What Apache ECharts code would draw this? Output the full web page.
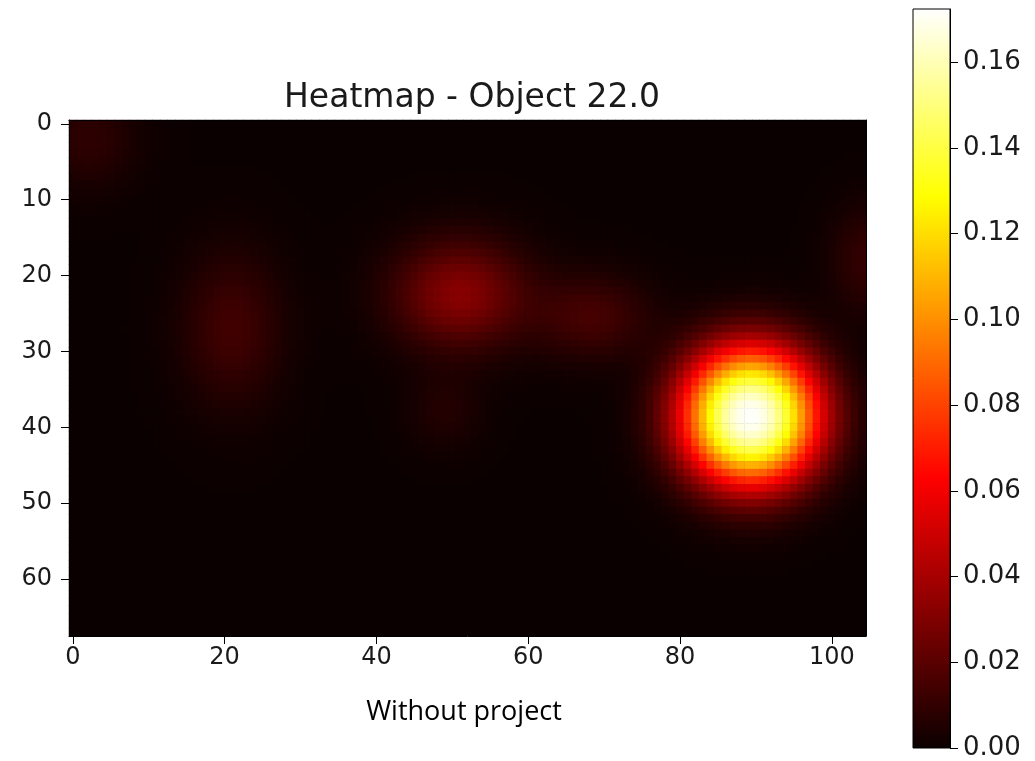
<!DOCTYPE html>
<html><head><meta charset="utf-8">
<script src="https://cdn.jsdelivr.net/npm/echarts@6/dist/echarts.min.js"></script>
<style>html,body{margin:0;padding:0;background:#fff}#c{width:1035px;height:761px}</style>
</head><body><div id="c"></div>
<script>
// ---- text ----
const titleText = 'Heatmap - Object 22.0';
const captionText = 'Without project';
// ---- grid size (cells) ----
const xCount = 105;
const yCount = 68;
// ---- tick labels ----
const xTickStep = 20;
const yTickStep = 10;
const colorbarTicks = [0, 0.02, 0.04, 0.06, 0.08, 0.10, 0.12, 0.14, 0.16];
const valueMax = 0.1724;
// ---- density blobs (cell units) ----
const blobX      = [89.3, 51.0, 68.5, 21.0, 2.0, 49.0, 105.0];
const blobY      = [38.6, 22.5, 25.5, 27.0, 2.0, 38.0, 18.0];
const blobPeak   = [0.172, 0.032, 0.015, 0.014, 0.009, 0.006, 0.011];
const blobSpreadX= [9.0, 8.5, 7.5, 6.5, 6.5, 5.0, 5.0];
const blobSpreadY= [9.0, 7.0, 5.5, 10.0, 6.5, 5.0, 7.0];
const blobShape  = [2.3, 2.0, 2.0, 2.0, 2.0, 2.0, 2.0];

// ---- build the heatmap table ----
const xCats = Array.from({length: xCount}, (_, i) => String(i));
const yCats = Array.from({length: yCount}, (_, i) => String(i));
const cells = [];
for (let yi = 0; yi < yCount; yi++) {
  for (let xi = 0; xi < xCount; xi++) {
    let v = 0;
    for (let b = 0; b < blobX.length; b++) {
      const dx = (xi - blobX[b]) / blobSpreadX[b];
      const dy = (yi - blobY[b]) / blobSpreadY[b];
      v += blobPeak[b] * Math.exp(-Math.pow(dx * dx + dy * dy, blobShape[b] / 2));
    }
    cells.push([xi, yi, Math.min(v, valueMax)]);
  }
}

// matplotlib 'hot' colormap
function hot(t) {
  const r = t < 0.365079 ? 0.0416 + (1 - 0.0416) * t / 0.365079 : 1;
  const g = t < 0.365079 ? 0 : (t < 0.746032 ? (t - 0.365079) / (0.746032 - 0.365079) : 1);
  const b = t < 0.746032 ? 0 : (t - 0.746032) / (1 - 0.746032);
  const h = x => Math.round(x * 255);
  return 'rgb(' + h(r) + ',' + h(g) + ',' + h(b) + ')';
}
const hotColors = Array.from({length: 129}, (_, i) => hot(i / 128));
const hotStops = [0, 0.365079, 0.746032, 1].map(o => ({offset: o, color: hot(o)}));

const font = 'DejaVu Sans';
const tickFont = 24;
const chart = echarts.init(document.getElementById('c'), null, {renderer: 'canvas'});
chart.setOption({
  animation: false,
  backgroundColor: '#fff',
  title: {
    text: titleText, left: 467, top: 77, textAlign: 'center',
    textStyle: {fontFamily: font, fontSize: 33, fontWeight: 'normal', color: '#1a1a1a'}
  },
  graphic: [{
    type: 'text', x: 464, y: 712, z: 100,
    style: {text: captionText, fontFamily: 'Open Sans', fontSize: 27, fill: '#000',
            align: 'center', verticalAlign: 'middle'}
  }],
  grid: [
    {left: 69, top: 120, width: 797, height: 516, show: true,
     backgroundColor: hot(0), borderWidth: 0},
    {left: 913, top: 9, width: 37, height: 739, show: true,
     backgroundColor: new echarts.graphic.LinearGradient(0, 1, 0, 0, hotStops),
     borderColor: '#000', borderWidth: 1}
  ],
  xAxis: [
    {type: 'category', gridIndex: 0, data: xCats, position: 'bottom', z: 10,
     axisLine: {show: true, lineStyle: {color: '#000', width: 1}},
     axisTick: {show: true, alignWithLabel: true, length: 8, interval: (i) => i % xTickStep === 0, lineStyle: {color: '#000'}},
     axisLabel: {interval: (i) => i % xTickStep === 0, fontFamily: font, fontSize: tickFont, color: '#1a1a1a', margin: 10},
     splitLine: {show: false}},
    {type: 'value', gridIndex: 0, position: 'top', min: 0, max: 1, z: 10,
     axisLine: {show: true, onZero: false, lineStyle: {color: '#000', width: 1}},
     axisTick: {show: false}, axisLabel: {show: false}, splitLine: {show: false}},
    {type: 'value', gridIndex: 1, min: 0, max: 1, show: false}
  ],
  yAxis: [
    {type: 'category', gridIndex: 0, data: yCats, inverse: true, z: 10,
     axisLine: {show: true, lineStyle: {color: '#000', width: 1}},
     axisTick: {show: true, alignWithLabel: true, length: 8, interval: (i) => i % yTickStep === 0, lineStyle: {color: '#000'}},
     axisLabel: {interval: (i) => i % yTickStep === 0, fontFamily: font, fontSize: tickFont, color: '#1a1a1a', margin: 17},
     splitLine: {show: false}},
    {type: 'value', gridIndex: 0, position: 'right', min: 0, max: 1, z: 10,
     axisLine: {show: true, onZero: false, lineStyle: {color: '#000', width: 1}},
     axisTick: {show: false}, axisLabel: {show: false}, splitLine: {show: false}},
    {type: 'value', gridIndex: 1, position: 'right', min: 0, max: valueMax,
     axisLine: {show: true, onZero: false, lineStyle: {color: '#000', width: 1}},
     axisTick: {show: true, inside: false, length: 8, customValues: colorbarTicks, lineStyle: {color: '#000'}},
     axisLabel: {customValues: colorbarTicks, formatter: v => v.toFixed(2), fontFamily: font, fontSize: 26, color: '#1a1a1a', margin: 13},
     splitLine: {show: false}}
  ],
  visualMap: {
    type: 'continuous', show: false, min: 0, max: valueMax, seriesIndex: 0, dimension: 2,
    inRange: {color: hotColors}
  },
  series: [
    {type: 'heatmap', xAxisIndex: 0, yAxisIndex: 0, data: cells, progressive: 0,
     itemStyle: {borderWidth: 0}, emphasis: {disabled: true}},
    {type: 'line', xAxisIndex: 2, yAxisIndex: 2, data: [], silent: true}
  ]
});
</script></body></html>
